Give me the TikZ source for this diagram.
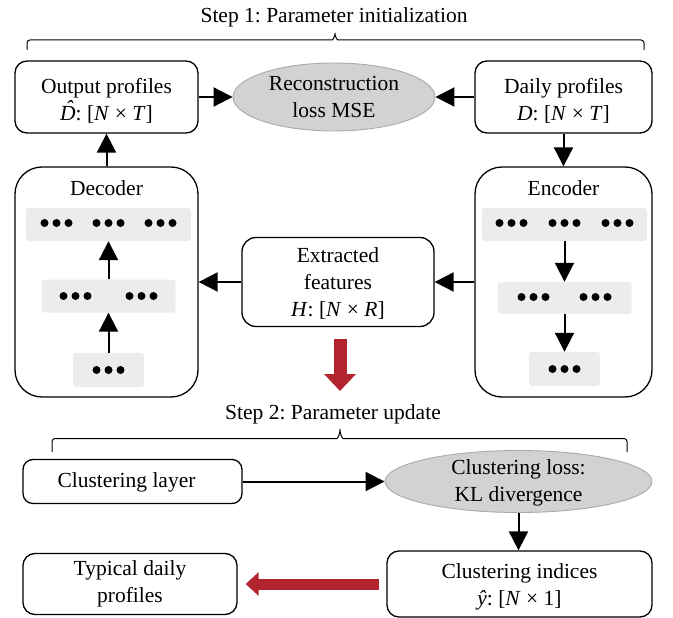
\documentclass[tikz,border=0pt]{standalone}
\usepackage{fontspec}
\setmainfont{Liberation Serif}
\usetikzlibrary{arrows.meta,shapes.geometric}
\frenchspacing

\definecolor{arrowred}{RGB}{178,36,46}
\definecolor{layergray}{RGB}{236,236,236}
\definecolor{lossgray}{RGB}{210,210,210}
\definecolor{lossedge}{RGB}{170,170,170}

% italic D with a circumflex placed by TeX's accent primitive
\newcommand\Dhat{{\itshape\accent"02C6 D}}

\tikzset{
  txtfont/.style={font=\fontsize{21.5}{27}\selectfont},
  box/.style={draw, line width=1.3pt, rounded corners=12pt, align=center,
              inner sep=0pt, txtfont},
  lossell/.style={ellipse, draw=lossedge, fill=lossgray, line width=0.9pt, inner sep=0pt},
  losstxt/.style={align=center, txtfont},
  layer/.style={fill=layergray, rounded corners=3pt, inner sep=0pt},
  arr/.style={line width=2pt, -{Triangle[length=19pt,width=19pt]}},
  bigred/.style={draw=arrowred},
  bracepath/.style={line width=1pt, rounded corners=3pt},
  steptitle/.style={txtfont, anchor=base, inner sep=0pt},
  dotrow/.pic={\foreach \dx in {-12,0,12} \fill (\dx,0) circle [radius=4pt];}
}

\begin{document}
\begin{tikzpicture}[x=1pt,y=-1pt]
\useasboundingbox (0,0) rectangle (673,618);

% ---------- Step 1: parameter initialization ----------
\node[steptitle] (t1) at (334,23) {Step 1: Parameter initialization};
\draw[bracepath] (27,50) -- (27,40) -- (329,40)
  .. controls (333,40) and (335,36) .. (335,31)
  .. controls (335,36) and (337,40) .. (341,40) -- (644,40) -- (644,50);

\node[box, minimum width=183pt, minimum height=72pt] (out) at (106.5,97)
  {\rule{0pt}{22pt}Output profiles\\ \Dhat: [\textit{N} × \textit{T}]};
\node[box, minimum width=177pt, minimum height=72pt] (daily) at (563.5,97)
  {\rule{0pt}{22pt}Daily profiles\\ \textit{D}: [\textit{N} × \textit{T}]};
\node[lossell, minimum width=202pt, minimum height=68pt,
      label={[losstxt, name=rectxt]center:{Reconstruction\\ loss MSE}}] (rec) at (334,97) {};

% decoder block
\node[box, rounded corners=27pt, minimum width=183pt, minimum height=230pt] (dec) at (106.5,282) {};
\node[txtfont, anchor=base, inner sep=0pt] (dectxt) at (106.5,195) {Decoder};
\node[layer, minimum width=165pt, minimum height=33pt] (d1) at (108.5,224.5) {};
\node[layer, minimum width=134pt, minimum height=33pt] (d2) at (108.5,296) {};
\node[layer, minimum width=71pt, minimum height=34pt] (d3) at (108.5,370) {};
\pic at (56.5,223) {dotrow};
\pic at (108.5,223) {dotrow};
\pic at (160.5,223) {dotrow};
\pic at (75.5,296) {dotrow};
\pic at (141.5,296) {dotrow};
\pic at (108.5,370) {dotrow};
\draw[arr] (d3) -- (d2);
\draw[arr] (d2) -- (d1);

% encoder block
\node[box, rounded corners=27pt, minimum width=177pt, minimum height=230pt] (enc) at (563.5,282) {};
\node[txtfont, anchor=base, inner sep=0pt] (enctxt) at (563.5,195) {Encoder};
\node[layer, minimum width=165pt, minimum height=33pt] (e1) at (564.5,224.5) {};
\node[layer, minimum width=134pt, minimum height=32pt] (e2) at (564.5,298) {};
\node[layer, minimum width=71pt, minimum height=34pt] (e3) at (564.5,369) {};
\pic at (511.5,223) {dotrow};
\pic at (564.5,223) {dotrow};
\pic at (617.5,223) {dotrow};
\pic at (533.5,297) {dotrow};
\pic at (595.5,297) {dotrow};
\pic at (564.5,369) {dotrow};
\draw[arr] (e1) -- (e2);
\draw[arr] (e2) -- (e3);

\node[box, rounded corners=14pt, minimum width=192pt, minimum height=89pt] (ext) at (338,282)
  {\rule{0pt}{18pt}Extracted\\ features\\ \textit{H}: [\textit{N} × \textit{R}]};

% step 1 connectors
\draw[arr] (out) -- (rec);
\draw[arr] (daily) -- (rec);
\draw[arr] (daily) -- (enc);
\draw[arr] (dec) -- (out);
\draw[arr] (enc) -- (ext);
\draw[arr] (ext) -- (dec);

% transition to step 2
\coordinate (downtail) at (340,339);
\coordinate (downtip) at (340,391);
\draw[bigred, line width=13pt, -{Triangle[length=17pt,width=31pt]}] (downtail) -- (downtip);

% ---------- Step 2: parameter update ----------
\node[steptitle] (t2) at (333,419) {Step 2: Parameter update};
\draw[bracepath] (52,452) -- (52,438.5) -- (334,438.5)
  .. controls (338,438.5) and (340,433) .. (340,427)
  .. controls (340,433) and (342,438.5) .. (346,438.5) -- (627,438.5) -- (627,452);

\node[box, rounded corners=10pt, minimum width=219pt, minimum height=44pt] (clayer) at (132.5,481.5)
  {\rule{0pt}{16pt}Clustering layer\hspace*{12pt}};
\node[lossell, minimum width=267pt, minimum height=62pt,
      label={[losstxt, name=clossTxt, yshift=-1pt]center:{Clustering loss:\\ KL divergence}}] (closs) at (518.5,481.5) {};
\node[box, minimum width=265pt, minimum height=66pt] (cind) at (519.5,584)
  {\rule{0pt}{20pt}Clustering indices\\ \textit{ŷ}: [\textit{N} × 1]};
\node[box, minimum width=214pt, minimum height=61pt] (typ) at (130,584)
  {Typical daily\\ profiles};

\draw[arr] (clayer) -- (closs);
\draw[arr] (closs.south) -- (closs.south |- cind.north);
\draw[bigred, line width=11pt, -{Triangle[length=13pt,width=23pt]}]
  ([xshift=-7pt]cind.west) -- ([xshift=8pt]typ.east);
\end{tikzpicture}
\end{document}
